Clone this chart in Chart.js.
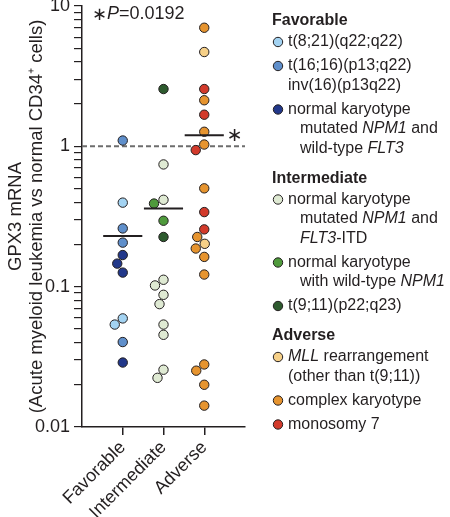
<!DOCTYPE html>
<html>
<head>
<meta charset="utf-8">
<script src="https://cdn.jsdelivr.net/npm/chart.js@4.4.1/dist/chart.umd.min.js"></script>
<style>
  html, body { margin: 0; padding: 0; background: #fff; }
  #wrap { width: 450px; height: 517px; position: relative; }
</style>
</head>
<body>
<div id="wrap"><canvas id="chart"></canvas></div>
<script>
// categories on the x axis
const categories = ['Favorable', 'Intermediate', 'Adverse'];

// GPX3 mRNA per patient, by cytogenetic subtype
const t821Values = [0.397, 0.0594, 0.0537];
const t1616Values = [1.1, 0.26, 0.206, 0.0403];
const nkNpm1WtFlt3Values = [0.168, 0.146, 0.126, 0.0288];
const nkNpm1ItdValues = [0.743, 0.416, 0.112, 0.102, 0.0875, 0.0751, 0.0537, 0.0454, 0.0256, 0.0224];
const nkWtNpm1Values = [0.391, 0.295];
const t911Values = [2.56, 0.226];
const mllValues = [4.7, 0.202];
const complexValues = [7.0, 2.13, 1.27, 1.03, 0.502, 0.226, 0.187, 0.163, 0.122, 0.0279, 0.0252, 0.020, 0.0142];
const mono7Values = [2.56, 1.68, 0.94, 0.34, 0.256];

// group means (horizontal bars)
const groupMeans = [0.23, 0.36, 1.2];
const yMajorTicks = [0.01, 0.1, 1, 10];
const pValue = '0.0192';

const FONT = "'Liberation Sans', Arial, Helvetica, sans-serif";
const INK = '#231f20';
const LEGEND_SIZE = 16;

const subtypes = [
  { group: 0, values: t821Values, color: '#a3d3f2' },
  { group: 0, values: t1616Values, color: '#5f8fcb' },
  { group: 0, values: nkNpm1WtFlt3Values, color: '#22388a' },
  { group: 1, values: nkNpm1ItdValues, color: '#dfead3' },
  { group: 1, values: nkWtNpm1Values, color: '#4f9a3c' },
  { group: 1, values: t911Values, color: '#2d5a2e' },
  { group: 2, values: mllValues, color: '#f6d088' },
  { group: 2, values: complexValues, color: '#e6942f' },
  { group: 2, values: mono7Values, color: '#d23a2b' }
];

// legend: header, then items made of lines of [text, italic] segments
const legendSections = [
  { title: 'Favorable', items: [
    { color: subtypes[0].color, lines: [[['t(8;21)(q22;q22)']]] },
    { color: subtypes[1].color, lines: [[['t(16;16)(p13;q22)']], [['inv(16)(p13q22)']]] },
    { color: subtypes[2].color, lines: [[['normal karyotype']], [['mutated '], ['NPM1', true], [' and']], [['wild-type '], ['FLT3', true]]], indent: true }
  ]},
  { title: 'Intermediate', items: [
    { color: subtypes[3].color, lines: [[['normal karyotype']], [['mutated '], ['NPM1', true], [' and']], [['FLT3', true], ['-ITD']]], indent: true },
    { color: subtypes[4].color, lines: [[['normal karyotype']], [['with wild-type '], ['NPM1', true]]], indent: true },
    { color: subtypes[5].color, lines: [[['t(9;11)(p22;q23)']]] }
  ]},
  { title: 'Adverse', items: [
    { color: subtypes[6].color, lines: [[['MLL', true], [' rearrangement']], [['(other than t(9;11))']]] },
    { color: subtypes[7].color, lines: [[['complex karyotype']]] },
    { color: subtypes[8].color, lines: [[['monosomy 7']]] }
  ]}
];

const datasets = [];
datasets.push({
  type: 'line',
  data: [{ x: 0, y: 1 }, { x: 4, y: 1 }],
  borderColor: '#6d6d6d',
  borderWidth: 2,
  borderDash: [5, 3],
  pointRadius: 0,
  order: 3
});
subtypes.forEach(s => {
  datasets.push({
    type: 'scatter',
    data: s.values.map(v => ({ x: s.group + 1, y: v })),
    backgroundColor: s.color,
    borderColor: INK,
    borderWidth: 1,
    pointRadius: 4.7,
    pointHoverRadius: 4.7,
    order: 2
  });
});
groupMeans.forEach((m, i) => {
  datasets.push({
    type: 'line',
    data: [{ x: i + 1 - 0.48, y: m }, { x: i + 1 + 0.48, y: m }],
    borderColor: INK,
    borderWidth: 2,
    pointRadius: 0,
    order: 1
  });
});

const annotations = {
  id: 'annotations',
  afterDraw(chart) {
    const { ctx, scales: { x, y } } = chart;
    ctx.save();
    ctx.fillStyle = INK;
    ctx.textBaseline = 'middle';

    // p value at top
    ctx.font = `18px 'DejaVu Sans', sans-serif`;
    ctx.fillText('\u2217', 92, 15);
    ctx.font = `italic 18px ${FONT}`;
    ctx.fillText('P', 107, 14);
    const pw = ctx.measureText('P').width;
    ctx.font = `18px ${FONT}`;
    ctx.fillText('=' + pValue, 107 + pw, 14);

    // asterisk next to adverse mean
    ctx.font = `19px 'DejaVu Sans', sans-serif`;
    ctx.textAlign = 'center';
    ctx.fillText('\u2217', x.getPixelForValue(3.75), y.getPixelForValue(groupMeans[2]) + 1);
    ctx.textAlign = 'left';

    // legend
    const lx = 272, mx = 278, tx = 288, ix = 300;
    const lineH = 19.5, itemGap = 24, headGap = 21, sectionGap = 30;
    let ly = 21;
    legendSections.forEach(sec => {
      ctx.font = `bold ${LEGEND_SIZE}px ${FONT}`;
      ctx.fillText(sec.title, lx, ly);
      ly += headGap;
      sec.items.forEach((item, ii) => {
        ctx.beginPath();
        ctx.arc(mx, ly, 4.7, 0, Math.PI * 2);
        ctx.fillStyle = item.color;
        ctx.fill();
        ctx.lineWidth = 1;
        ctx.strokeStyle = INK;
        ctx.stroke();
        ctx.fillStyle = INK;
        item.lines.forEach((segs, li) => {
          let cx = (li > 0 && item.indent) ? ix : tx;
          segs.forEach(([t, it]) => {
            ctx.font = `${it ? 'italic ' : ''}${LEGEND_SIZE}px ${FONT}`;
            ctx.fillText(t, cx, ly);
            cx += ctx.measureText(t).width;
          });
          if (li < item.lines.length - 1) ly += lineH;
        });
        if (ii < sec.items.length - 1) ly += itemGap;
      });
      ly += sectionGap;
    });
    ctx.restore();
  }
};

const chart = new Chart(document.getElementById('chart'), {
  data: { datasets },
  options: {
    responsive: true,
    maintainAspectRatio: false,
    animation: false,
    events: [],
    layout: { padding: { top: 0, right: 205, bottom: 0, left: 0 } },
    plugins: {
      legend: { display: false },
      tooltip: { enabled: false }
    },
    scales: {
      x: {
        type: 'linear',
        min: 0,
        max: 4,
        afterBuildTicks: scale => { scale.ticks = categories.map((c, i) => ({ value: i + 1 })); },
        afterFit: scale => { scale.height = 90; },
        ticks: {
          callback: v => categories[v - 1],
          minRotation: 45,
          maxRotation: 45,
          autoSkip: false,
          padding: 2,
          color: INK,
          font: { family: FONT, size: 18 }
        },
        grid: { drawOnChartArea: false, color: INK, lineWidth: 1.5, tickLength: 8 },
        border: { color: INK, width: 1.5 }
      },
      y: {
        type: 'logarithmic',
        min: 0.01,
        max: 10,
        afterBuildTicks: scale => {
          const t = [];
          [0.01, 0.1, 1].forEach(d => {
            for (let k = 1; k <= 9; k++) t.push({ value: Number((k * d).toPrecision(3)) });
          });
          t.push({ value: 10 });
          scale.ticks = t;
        },
        afterFit: scale => {
          scale.width = 82;
          scale.paddingTop = 6;
          scale.paddingBottom = 0;
        },
        ticks: {
          callback: v => yMajorTicks.includes(v) ? String(v) : '',
          autoSkip: false,
          padding: 4,
          color: INK,
          font: { family: FONT, size: 18 }
        },
        title: {
          display: true,
          text: ['GPX3 mRNA', '(Acute myeloid leukemia vs normal CD34\u207A cells)'],
          color: INK,
          font: { family: FONT, size: 18.5, lineHeight: 1.15 },
          padding: { top: 5, bottom: 0 }
        },
        grid: { drawOnChartArea: false, color: INK, lineWidth: 1.2, tickLength: 8 },
        border: { color: INK, width: 1.5 }
      }
    }
  },
  plugins: [annotations]
});

// spread overlapping points sideways (simple beeswarm in pixel space)
function swarm(chart) {
  const xs = chart.scales.x, ys = chart.scales.y;
  const diameter = 10;
  const unit = xs.getPixelForValue(1) - xs.getPixelForValue(0);
  categories.forEach((c, gi) => {
    const pts = [];
    subtypes.forEach((s, si) => {
      if (s.group !== gi) return;
      s.values.forEach((v, vi) => pts.push({ ds: si + 1, vi, py: ys.getPixelForValue(v) }));
    });
    pts.sort((a, b) => a.py - b.py);
    const placed = [];
    pts.forEach(p => {
      let best = 0;
      for (let k = 0; k < 80; k++) {
        const cands = k === 0 ? [0] : [-k * 0.5, k * 0.5];
        const ok = cands.find(dx => placed.every(q => Math.hypot(dx - q.dx, p.py - q.py) >= diameter));
        if (ok !== undefined) { best = ok; break; }
      }
      p.dx = best;
      placed.push(p);
    });
    pts.forEach(p => { chart.data.datasets[p.ds].data[p.vi].x = gi + 1 + p.dx / unit; });
  });
  chart.update('none');
}
swarm(chart);
</script>
</body>
</html>
